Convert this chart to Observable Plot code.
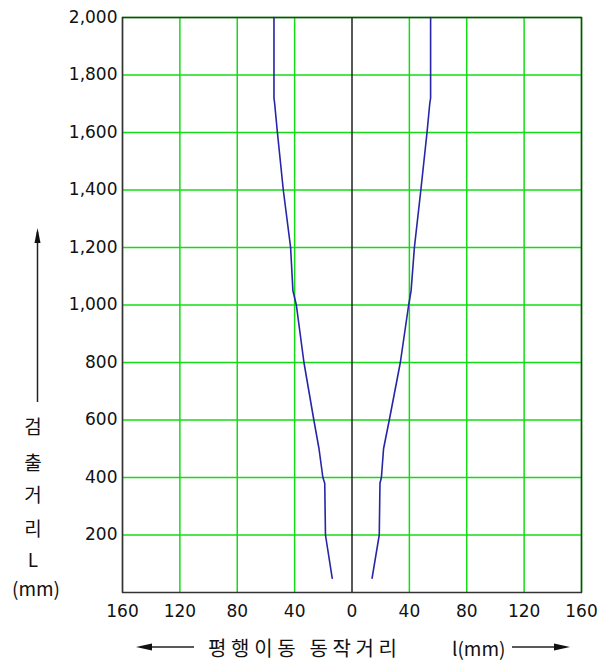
<!DOCTYPE html>
<html>
<head>
<meta charset="utf-8">
<script src="https://cdn.jsdelivr.net/npm/d3@7"></script>
<script src="https://cdn.jsdelivr.net/npm/@observablehq/plot@0.6"></script>
<style>
  html, body { margin: 0; padding: 0; background: #fff; }
  #chart { position: relative; width: 597px; height: 662px; }
</style>
</head>
<body>
<div id="chart"></div>
<script>
// Detection distance L (mm)
const distL = [50, 200, 380, 400, 500, 600, 800, 1000, 1050, 1200, 1400, 1600, 1700, 1720, 2000];
// Parallel travel distance l (mm), right side (+) and left side (-)
const rightL = [14, 19, 19.5, 20.5, 22, 26, 33.7, 39.5, 41.2, 43.5, 48, 52.3, 54.2, 54.8, 54.8];
const leftL = [-13.8, -18.5, -19, -20.3, -23, -26.6, -33.5, -38.8, -41.2, -42.8, -47.9, -52, -53.9, -54.4, -54.4];

const xTicks = [-160, -120, -80, -40, 0, 40, 80, 120, 160];
const yTicks = [200, 400, 600, 800, 1000, 1200, 1400, 1600, 1800, 2000];

const rows = [];
distL.forEach((L, i) => {
  rows.push({side: "right", L, l: rightL[i]});
  rows.push({side: "left", L, l: leftL[i]});
});

const green = "#14dc14";
const plot = Plot.plot({
  width: 597,
  height: 662,
  marginLeft: 122,
  marginRight: 16,
  marginTop: 17,
  marginBottom: 70,
  style: {fontFamily: "DejaVu Sans", fontSize: "17px", color: "#111", background: "#fff", overflow: "visible"},
  x: {domain: [-160, 160], ticks: xTicks, tickFormat: d => Math.abs(d), tickSize: 0, tickPadding: 12, label: null},
  y: {domain: [0, 2000], ticks: yTicks, tickFormat: d3.format(","), tickSize: 0, tickPadding: 5, label: null},
  marks: [
    Plot.gridX(xTicks.filter(d => d !== 0), {stroke: green, strokeOpacity: 1, strokeWidth: 1.5}),
    Plot.gridY(yTicks, {stroke: green, strokeOpacity: 1, strokeWidth: 1.5}),
    Plot.ruleX([0], {stroke: "#222", strokeWidth: 1.5}),
    Plot.line(rows, {x: "l", y: "L", z: "side", stroke: "#2626a6", strokeWidth: 1.6}),
    Plot.frame({stroke: "#333", strokeWidth: 1.5})
  ]
});
document.getElementById("chart").appendChild(plot);

// Annotations: axis titles with arrows
const svg = d3.select(plot);
const g = svg.append("g").attr("fill", "#111").attr("stroke", "none").attr("text-anchor", "start");
const kfont = "'Noto Sans CJK KR', 'DejaVu Sans', sans-serif";

// Vertical axis arrow
g.append("line").attr("x1", 37.5).attr("x2", 37.5).attr("y1", 232).attr("y2", 402)
  .attr("stroke", "#222").attr("stroke-width", 1.5);
g.append("path").attr("d", "M37.5,228 L34.5,243 L40.5,243 Z").attr("fill", "#111");

const yLab = [["검", 425], ["출", 461], ["거", 493], ["리", 527], ["L", 558], ["(mm)", 587]];
yLab.forEach(([t, y]) => {
  g.append("text").attr("x", t === "(mm)" ? 36 : 33).attr("y", y)
    .attr("text-anchor", "middle").attr("dominant-baseline", "central")
    .attr("font-family", kfont).attr("font-size", 19).text(t);
});

// Horizontal axis arrows
g.append("line").attr("x1", 148).attr("x2", 194).attr("y1", 647).attr("y2", 647)
  .attr("stroke", "#222").attr("stroke-width", 1.5);
g.append("path").attr("d", "M136,647 L152,643.5 L152,650.5 Z").attr("fill", "#111");
g.append("line").attr("x1", 512).attr("x2", 558).attr("y1", 647).attr("y2", 647)
  .attr("stroke", "#222").attr("stroke-width", 1.5);
g.append("path").attr("d", "M570,647 L554,643.5 L554,650.5 Z").attr("fill", "#111");

g.append("text").attr("x", 208).attr("y", 647).attr("text-anchor", "start").attr("dominant-baseline", "central")
  .attr("font-family", kfont).attr("font-size", 20).attr("textLength", 189).text("평행이동 동작거리");
g.append("text").attr("x", 452).attr("y", 647).attr("text-anchor", "start").attr("dominant-baseline", "central")
  .attr("font-family", kfont).attr("font-size", 19).text("l(mm)");
</script>
</body>
</html>
